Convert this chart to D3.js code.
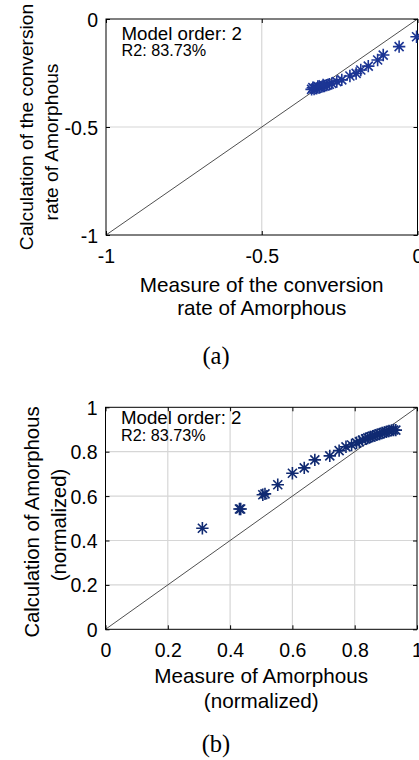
<!DOCTYPE html>
<html><head><meta charset="utf-8">
<script src="https://cdn.jsdelivr.net/npm/d3@7"></script>
<style>
html,body{margin:0;padding:0;background:#fff;}
svg{display:block;}
text{fill:#000;}
</style></head>
<body>
<svg id="chart" width="419" height="760"></svg>
<script>
// ---- Data (panel a: conversion rate) ----
const aMeasure = [-0.003,-0.059,-0.110,-0.128,-0.158,-0.182,-0.197,-0.217,-0.243,-0.259,-0.275,-0.283,-0.291,-0.299,-0.307,-0.315,-0.324,-0.332,-0.340,-0.336,-0.320,-0.303];
const aCalc    = [-0.082,-0.128,-0.167,-0.190,-0.218,-0.236,-0.252,-0.264,-0.282,-0.290,-0.298,-0.302,-0.306,-0.310,-0.313,-0.317,-0.321,-0.324,-0.326,-0.318,-0.312,-0.305];
const aTicks = [-1,-0.5,0];
const aTickLabels = ["-1","-0.5","0"];

// ---- Data (panel b: normalized) ----
const bMeasure = [0.311,0.430,0.434,0.505,0.512,0.553,0.600,0.638,0.672,0.720,0.750,0.772,0.790,0.806,0.815,0.825,0.835,0.842,0.850,0.858,0.865,0.872,0.880,0.888,0.895,0.902,0.910,0.918,0.925,0.932];
const bCalc    = [0.455,0.542,0.542,0.606,0.610,0.651,0.703,0.727,0.763,0.781,0.805,0.822,0.830,0.840,0.845,0.852,0.858,0.862,0.866,0.870,0.873,0.877,0.880,0.884,0.887,0.890,0.893,0.896,0.898,0.897];
const bTicks = [0,0.2,0.4,0.6,0.8,1];
const bTickLabels = ["0","0.2","0.4","0.6","0.8","1"];

const modelText = "Model order: 2";
const r2Text = "R2: 83.73%";

const SANS = "'Liberation Sans', Arial, sans-serif";
const SERIF = "'Liberation Serif', 'Times New Roman', serif";
const svg = d3.select("#chart");

function panel(cfg){
  const g = svg.append("g");
  const x = d3.scaleLinear().domain(cfg.domain).range([cfg.left, cfg.right]);
  const y = d3.scaleLinear().domain(cfg.domain).range([cfg.bottom, cfg.top]);
  // grid
  const inner = cfg.ticks.filter(t => t > cfg.domain[0] && t < cfg.domain[1]);
  g.selectAll(".gx").data(inner).enter().append("line")
    .attr("x1", d=>x(d)).attr("x2", d=>x(d)).attr("y1", cfg.top).attr("y2", cfg.bottom)
    .attr("stroke","#d6d6d6").attr("stroke-width",1.2);
  g.selectAll(".gy").data(inner).enter().append("line")
    .attr("y1", d=>y(d)).attr("y2", d=>y(d)).attr("x1", cfg.left).attr("x2", cfg.right)
    .attr("stroke","#d6d6d6").attr("stroke-width",1.2);
  // diagonal
  g.append("line").attr("x1",x(cfg.domain[0])).attr("y1",y(cfg.domain[0]))
    .attr("x2",x(cfg.domain[1])).attr("y2",y(cfg.domain[1]))
    .attr("stroke","#222").attr("stroke-width",0.8);
  // axes with inward ticks
  const tl = 4;
  const ax = g.append("g").attr("transform",`translate(0,${cfg.bottom})`)
    .call(d3.axisBottom(x).tickValues(cfg.ticks).tickSize(-tl).tickFormat((d,i)=>cfg.tickLabels[i]).tickPadding(12));
  const axT = g.append("g").attr("transform",`translate(0,${cfg.top})`)
    .call(d3.axisTop(x).tickValues(cfg.ticks).tickSize(-tl).tickFormat(""));
  const ay = g.append("g").attr("transform",`translate(${cfg.left},0)`)
    .call(d3.axisLeft(y).tickValues(cfg.ticks).tickSize(-tl).tickFormat((d,i)=>cfg.tickLabels[i]).tickPadding(8));
  const ayR = g.append("g").attr("transform",`translate(${cfg.right},0)`)
    .call(d3.axisRight(y).tickValues(cfg.ticks).tickSize(-tl).tickFormat(""));
  [ax,axT,ay,ayR].forEach(a=>{
    a.attr("font-family",null).attr("font-size",null);
    a.select(".domain").remove();
    a.selectAll("line").attr("stroke","#000").attr("stroke-width",1);
    a.selectAll("text").style("font-size","19.5px").style("font-family",SANS).attr("fill","#000");
  });
  ax.selectAll("text").attr("dy",null).attr("y", cfg.xTickBase - cfg.bottom);
  ay.selectAll("text").attr("dy","0.36em");
  // box
  g.append("rect").attr("x",cfg.left).attr("y",cfg.top)
    .attr("width",cfg.right-cfg.left).attr("height",cfg.bottom-cfg.top)
    .attr("fill","none").attr("stroke","#000").attr("stroke-width",1);
  // markers (asterisk)
  const s = 6.2, sd = 4.5;
  const pts = cfg.mx.map((v,i)=>[x(v), y(cfg.my[i])]);
  const mk = g.selectAll(".mk").data(pts).enter().append("g")
    .attr("transform", d=>`translate(${d[0]},${d[1]})`);
  mk.append("path")
    .attr("d", `M${-s},0H${s}M0,${-s}V${s}M${-sd},${-sd}L${sd},${sd}M${-sd},${sd}L${sd},${-sd}`)
    .attr("stroke", cfg.color).attr("stroke-width",1.6).attr("fill","none");
  // annotations
  g.append("text").attr("x",cfg.annX).attr("y",cfg.annY1).style("font-family",SANS).style("font-size","18.7px").text(modelText);
  g.append("text").attr("x",cfg.annX).attr("y",cfg.annY2).style("font-family",SANS).style("font-size","16.2px").text(r2Text);
  // x label
  const cx = (cfg.left+cfg.right)/2;
  cfg.xLabel.forEach((t,i)=>{
    g.append("text").attr("x",cx).attr("y",cfg.xLabBase[i]).attr("text-anchor","middle")
      .style("font-family",SANS).style("font-size","20.7px").text(t);
  });
  // y label
  cfg.yLabel.forEach((t,i)=>{
    g.append("text").attr("transform",`translate(${cfg.yLabBase[i]},${cfg.yLabCenter[i]}) rotate(-90)`)
      .attr("text-anchor","middle").style("font-family",SANS).style("font-size",cfg.yLabSize+"px").text(t);
  });
  // caption
  g.append("text").attr("x",216).attr("y",cfg.capBase).attr("text-anchor","middle")
    .style("font-family",SERIF).style("font-size","24.5px").text(cfg.caption);
}

panel({
  domain:[-1,0], ticks:aTicks, tickLabels:aTickLabels,
  left:106, right:417.5, top:19, bottom:235,
  mx:aMeasure, my:aCalc, color:"#1c3594",
  annX:121.5, annY1:40, annY2:55.5,
  xTickBase:263, xLabel:["Measure of the conversion","rate of Amorphous"], xLabBase:[291.5,315],
  yLabel:["Calculation of the conversion","rate of Amorphous"], yLabBase:[33,57.5], yLabCenter:[127,142], yLabSize:19.2,
  caption:"(a)", capBase:364
});
panel({
  domain:[0,1], ticks:bTicks, tickLabels:bTickLabels,
  left:105.5, right:417, top:407.3, bottom:629.3,
  mx:bMeasure, my:bCalc, color:"#102a72",
  annX:121, annY1:424, annY2:441,
  xTickBase:657, xLabel:["Measure of Amorphous","(normalized)"], xLabBase:[683.3,707.5],
  yLabel:["Calculation of Amorphous","(normalized)"], yLabBase:[39,65.7], yLabCenter:[522,525], yLabSize:20.3,
  caption:"(b)", capBase:752
});
</script>
</body></html>
